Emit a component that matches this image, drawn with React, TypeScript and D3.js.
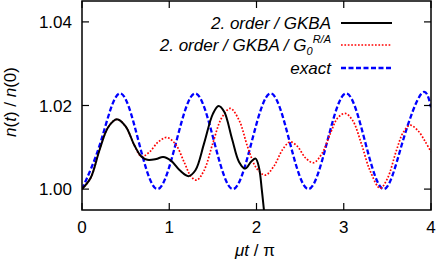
import React, { useEffect, useRef } from 'react'
import * as d3 from 'd3'

// values (x in units of mu*t/pi)
const gkbaX = [0, 0.1, 0.2, 0.3, 0.4, 0.5, 0.6, 0.68, 0.75, 0.85, 0.93, 1.02, 1.12, 1.22, 1.3, 1.4, 1.5, 1.565, 1.63, 1.72, 1.8, 1.87, 1.94, 1.99, 2.03, 2.06, 2.09]
const gkbaY = [1.0, 1.0027, 1.0093, 1.0148, 1.0167, 1.015, 1.0105, 1.0078, 1.007, 1.0072, 1.0077, 1.0068, 1.0045, 1.0031, 1.0045, 1.011, 1.018, 1.0199, 1.0185, 1.012, 1.0065, 1.0049, 1.0066, 1.0073, 1.005, 1.0, 0.994]

const g0X = [0, 0.1, 0.2, 0.3, 0.4, 0.5, 0.6, 0.68, 0.77, 0.87, 0.97, 1.07, 1.17, 1.25, 1.315, 1.4, 1.5, 1.6, 1.7, 1.8, 1.9, 2.0, 2.1, 2.2, 2.3, 2.385, 2.47, 2.56, 2.653, 2.75, 2.85, 2.93, 3.016, 3.1, 3.2, 3.3, 3.417, 3.5, 3.6, 3.68, 3.76, 3.85, 3.93, 4.0]
const g0Y = [1.0, 1.0027, 1.0093, 1.0148, 1.0167, 1.015, 1.0105, 1.0078, 1.0088, 1.0112, 1.01235, 1.0108, 1.0065, 1.003, 1.00215, 1.0045, 1.011, 1.017, 1.0193, 1.0165, 1.01, 1.005, 1.00335, 1.0055, 1.0095, 1.0113, 1.0102, 1.0075, 1.0063, 1.0085, 1.0135, 1.017, 1.0181, 1.0165, 1.011, 1.0045, 1.0002, 1.0025, 1.009, 1.0135, 1.0153, 1.014, 1.0115, 1.0089]

const exactX = [0, 0.216, 0.4325, 0.649, 0.865, 1.081, 1.2975, 1.514, 1.73, 1.946, 2.1625, 2.379, 2.595, 2.811, 3.0275, 3.244, 3.46, 3.676, 3.8925, 4.0]
const exactY = [1.0, 1.0114, 1.0229, 1.0114, 1.0, 1.0114, 1.0229, 1.0114, 1.0, 1.0114, 1.0229, 1.0114, 1.0, 1.0114, 1.0229, 1.0114, 1.0, 1.0114, 1.0229, 1.0196]

const xTicks = [0, 1, 2, 3, 4]
const yTicks = [1.0, 1.02, 1.04]

const font = 'Liberation Sans, Arial, Helvetica, sans-serif'

export default function App() {
  const ref = useRef<SVGSVGElement>(null)

  useEffect(() => {
    const svg = d3.select(ref.current)
    svg.selectAll('*').remove()

    const left = 82, right = 431, top = 1, bottom = 210

    const x = d3.scaleLinear().domain([0, 4]).range([left, right])
    const y = d3.scaleLinear().domain([0.995, 1.045]).range([bottom, top])

    svg.append('clipPath').attr('id', 'plotclip')
      .append('rect')
      .attr('x', left).attr('y', top)
      .attr('width', right - left).attr('height', bottom - top)

    const line = d3.line<[number, number]>()
      .x(d => x(d[0]))
      .y(d => y(d[1]))

    const zip = (xs: number[], ys: number[]) => xs.map((v, i) => [v, ys[i]] as [number, number])

    const g = svg.append('g').attr('clip-path', 'url(#plotclip)')

    g.append('path')
      .attr('d', line.curve(d3.curveNatural)(zip(exactX, exactY)))
      .attr('fill', 'none')
      .attr('stroke', '#0000ff')
      .attr('stroke-width', 2.3)
      .attr('stroke-dasharray', '5,2.5')

    g.append('path')
      .attr('d', line.curve(d3.curveCatmullRom)(zip(g0X, g0Y)))
      .attr('fill', 'none')
      .attr('stroke', '#ff0000')
      .attr('stroke-width', 1.7)
      .attr('stroke-dasharray', '1.7,1.7')

    g.append('path')
      .attr('d', line.curve(d3.curveCatmullRom)(zip(gkbaX, gkbaY)))
      .attr('fill', 'none')
      .attr('stroke', '#000')
      .attr('stroke-width', 2)

    // frame
    svg.append('rect')
      .attr('x', left).attr('y', top)
      .attr('width', right - left).attr('height', bottom - top)
      .attr('fill', 'none')
      .attr('stroke', '#000')
      .attr('stroke-width', 1.5)

    const tl = 7
    xTicks.forEach(t => {
      svg.append('line').attr('x1', x(t)).attr('x2', x(t)).attr('y1', bottom).attr('y2', bottom - tl).attr('stroke', '#000').attr('stroke-width', 1.2)
      svg.append('line').attr('x1', x(t)).attr('x2', x(t)).attr('y1', top).attr('y2', top + tl).attr('stroke', '#000').attr('stroke-width', 1.2)
      svg.append('text')
        .attr('x', x(t)).attr('y', 233)
        .attr('text-anchor', 'middle')
        .attr('font-family', font).attr('font-size', 17)
        .text(t)
    })
    yTicks.forEach(t => {
      svg.append('line').attr('x1', left).attr('x2', left + tl).attr('y1', y(t)).attr('y2', y(t)).attr('stroke', '#000').attr('stroke-width', 1.2)
      svg.append('line').attr('x1', right).attr('x2', right - tl).attr('y1', y(t)).attr('y2', y(t)).attr('stroke', '#000').attr('stroke-width', 1.2)
      svg.append('text')
        .attr('x', 72).attr('y', y(t) + 6)
        .attr('text-anchor', 'end')
        .attr('font-family', font).attr('font-size', 17)
        .text(d3.format('.2f')(t))
    })

    // axis labels
    const xl = svg.append('text')
      .attr('x', 255).attr('y', 256)
      .attr('text-anchor', 'middle')
      .attr('font-family', font).attr('font-size', 17)
    xl.append('tspan').attr('font-style', 'italic').text('\u03bct')
    xl.append('tspan').text(' / \u03c0')

    const yl = svg.append('text')
      .attr('transform', 'translate(16,102) rotate(-90)')
      .attr('text-anchor', 'middle')
      .attr('font-family', font).attr('font-size', 17)
    yl.append('tspan').attr('font-style', 'italic').text('n')
    yl.append('tspan').text('(')
    yl.append('tspan').attr('font-style', 'italic').text('t')
    yl.append('tspan').text(') / ')
    yl.append('tspan').attr('font-style', 'italic').text('n')
    yl.append('tspan').text('(0)')

    // legend
    const legend = [
      { color: '#000', width: 2, dash: null, y: 23 },
      { color: '#ff0000', width: 1.7, dash: '1.7,1.7', y: 45 },
      { color: '#0000ff', width: 2.3, dash: '5,2.5', y: 68 },
    ]
    legend.forEach(l => {
      svg.append('line')
        .attr('x1', 341).attr('x2', 392)
        .attr('y1', l.y).attr('y2', l.y)
        .attr('stroke', l.color)
        .attr('stroke-width', l.width)
        .attr('stroke-dasharray', l.dash)
    })
    const lt = (yy: number) => svg.append('text')
      .attr('x', 331).attr('y', yy + 6)
      .attr('text-anchor', 'end')
      .attr('font-family', font).attr('font-size', 17)
      .attr('font-style', 'italic')
    lt(23).text('2. order / GKBA')
    const t2 = lt(45)
    t2.append('tspan').text('2. order / GKBA / G')
    t2.append('tspan').attr('font-size', 11).attr('dy', 4).text('0')
    t2.append('tspan').attr('font-size', 11).attr('dy', -12).text('R/A')
    lt(68).text('exact')
  }, [])

  return (
    <svg ref={ref} width={436} height={265} style={{ position: 'absolute', left: 0, top: 0 }} />
  )
}
